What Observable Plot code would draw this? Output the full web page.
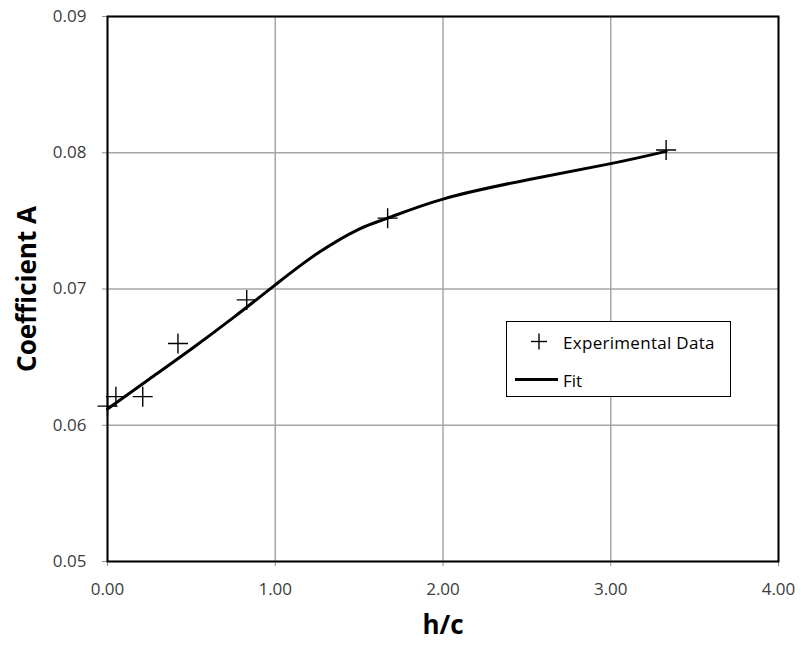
<!DOCTYPE html>
<html>
<head>
<meta charset="utf-8">
<script src="https://cdn.jsdelivr.net/npm/d3@7"></script>
<script src="https://cdn.jsdelivr.net/npm/@observablehq/plot@0.6"></script>
<style>
  body { margin: 0; background: #fff; }
  #wrap { position: relative; width: 801px; height: 648px; font-family: "Open Sans", "Noto Sans", sans-serif; }
  #legend { position: absolute; left: 506px; top: 321px; width: 225px; height: 76px; border: 1px solid #000; background: #fff; box-sizing: border-box; }
</style>
</head>
<body>
<div id="wrap"></div>
<script>
// Experimental data
const expX = [0.00, 0.05, 0.21, 0.42, 0.83, 1.67, 3.33];
const expY = [0.0614, 0.0621, 0.0621, 0.0660, 0.0692, 0.0752, 0.0802];
// Fit curve
const fitX = [0.00, 0.25, 0.50, 0.75, 1.00, 1.25, 1.50, 1.67, 2.00, 2.50, 3.00, 3.33];
const fitY = [0.0612, 0.0634, 0.0656, 0.0679, 0.0703, 0.0726, 0.0744, 0.0752, 0.0766, 0.0780, 0.0792, 0.0801];
// Axes
const xTicks = [0, 1, 2, 3, 4];
const yTicks = [0.05, 0.06, 0.07, 0.08, 0.09];
const xTitle = "h/c";
const yTitle = "Coefficient A";
const legendLabels = ["Experimental Data", "Fit"];

const expData = expX.map((x, i) => ({x, y: expY[i]}));
const fitData = fitX.map((x, i) => ({x, y: fitY[i]}));

const chart = Plot.plot({
  width: 801,
  height: 648,
  marginLeft: 107,
  marginRight: 23,
  marginTop: 16,
  marginBottom: 87,
  style: { fontFamily: "'Open Sans', 'Noto Sans', sans-serif", background: "#fff" },
  x: { domain: [0, 4] },
  y: { domain: [0.05, 0.09] },
  marks: [
    Plot.gridX(xTicks, { stroke: "#a6a6a6", strokeOpacity: 1, strokeWidth: 1.5 }),
    Plot.gridY(yTicks, { stroke: "#a6a6a6", strokeOpacity: 1, strokeWidth: 1.5 }),
    Plot.axisX({ ticks: xTicks, tickFormat: d3.format(".2f"), tickSize: 5, tickPadding: 16, fontSize: 17, color: "#3c3c3c", stroke: "#909090", label: null }),
    Plot.axisY({ ticks: yTicks, tickFormat: d3.format(".2f"), tickSize: 5, tickPadding: 16, fontSize: 17, color: "#3c3c3c", stroke: "#909090", label: null }),
    Plot.frame({ stroke: "#000", strokeWidth: 2 }),
    Plot.line(fitData, { x: "x", y: "y", curve: "natural", stroke: "#000", strokeWidth: 3 }),
    Plot.dot(expData, { x: "x", y: "y", symbol: "plus", r: 6.5, stroke: "#000", strokeWidth: 1.4 }),
    Plot.text([xTitle], { frameAnchor: "bottom", dy: 72, fontSize: 26, fontWeight: "bold", fill: "#000" }),
    Plot.text([yTitle], { frameAnchor: "left", textAnchor: "middle", dx: -80, rotate: -90, fontSize: 26, fontWeight: "bold", fill: "#000" })
  ]
});

const wrap = document.getElementById("wrap");
wrap.appendChild(chart);

const legend = document.createElement("div");
legend.id = "legend";
legend.innerHTML = `
<svg width="223" height="74" style="display:block">
  <g stroke="#000" stroke-width="1.4">
    <line x1="24" x2="40" y1="19.5" y2="19.5"/>
    <line x1="32" x2="32" y1="11.5" y2="27.5"/>
  </g>
  <line x1="8" x2="51" y1="57.5" y2="57.5" stroke="#000" stroke-width="3"/>
  <text x="56" y="20" dominant-baseline="central" font-size="17" letter-spacing="0.3" fill="#000" font-family="'Open Sans', 'Noto Sans', sans-serif">${legendLabels[0]}</text>
  <text x="56" y="58" dominant-baseline="central" font-size="17" fill="#000" font-family="'Open Sans', 'Noto Sans', sans-serif">${legendLabels[1]}</text>
</svg>`;
wrap.appendChild(legend);
</script>
</body>
</html>
